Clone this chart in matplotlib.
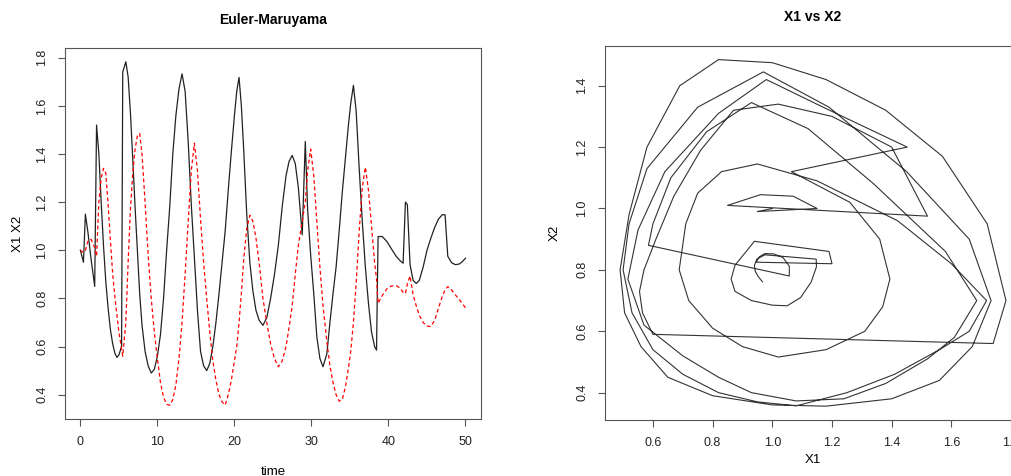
import matplotlib
matplotlib.use("Agg")
import matplotlib.pyplot as plt

plt.rcParams['font.family'] = ['Liberation Sans', 'DejaVu Sans']

# time points (extra points at the jumps)
time = [0, 0.4, 0.65, 1.0, 1.4, 1.86, 2.1, 2.4, 2.7, 3.0, 3.3, 3.6, 3.9, 4.2, 4.5, 4.75,
        5.0, 5.35, 5.5, 5.9, 6.2, 6.5, 6.8, 7.1, 7.4, 7.7, 8.0, 8.4, 8.8, 9.2, 9.6, 10.0,
        10.4, 10.8, 11.2, 11.6, 12.0, 12.4, 12.8, 13.2, 13.6, 14.0, 14.4, 14.8, 15.2, 15.6,
        16.0, 16.4, 16.8, 17.2, 17.6, 18.0, 18.4, 18.8, 19.2, 19.6, 20.0, 20.3, 20.6, 20.9,
        21.2, 21.6, 22.0, 22.4, 22.8, 23.2, 23.7, 24.2, 24.7, 25.2, 25.7, 26.2, 26.7, 27.1,
        27.5, 27.9, 28.3, 28.8, 29.2, 29.5, 29.9, 30.3, 30.7, 31.1, 31.5, 32.0, 32.4, 32.8,
        33.2, 33.6, 34.0, 34.4, 34.8, 35.1, 35.45, 35.8, 36.2, 36.6, 37.0, 37.4, 37.8, 38.2,
        38.45, 38.65, 39.2, 39.8, 40.4, 41.0, 41.5, 41.9, 42.2, 42.45, 42.8, 43.2, 43.6, 44.0,
        44.5, 45.0, 45.5, 46.0, 46.5, 47.0, 47.35, 47.7, 48.2, 48.7, 49.2, 49.6, 50.0]

x1 = [1.0, 0.95, 1.15, 1.07, 0.96, 0.85, 1.52, 1.40, 1.20, 1.02, 0.87, 0.76, 0.67, 0.61, 0.57, 0.555,
      0.565, 0.60, 1.74, 1.783, 1.72, 1.57, 1.38, 1.18, 1.0, 0.82, 0.69, 0.58, 0.52, 0.49, 0.505, 0.56,
      0.65, 0.80, 1.0, 1.18, 1.40, 1.56, 1.67, 1.733, 1.66, 1.45, 1.19, 0.97, 0.75, 0.58,
      0.52, 0.50, 0.53, 0.60, 0.70, 0.82, 0.95, 1.08, 1.25, 1.41, 1.56, 1.66, 1.718, 1.60,
      1.42, 1.15, 0.95, 0.83, 0.75, 0.71, 0.688, 0.72, 0.80, 0.90, 1.02, 1.18, 1.31, 1.37,
      1.394, 1.36, 1.26, 1.064, 1.452, 1.17, 0.98, 0.82, 0.64, 0.55, 0.516, 0.57, 0.70, 0.82,
      0.93, 1.08, 1.24, 1.38, 1.52, 1.61, 1.685, 1.58, 1.34, 1.12, 0.93, 0.78, 0.66, 0.60,
      0.585, 1.057, 1.057, 1.036, 1.005, 0.975, 0.957, 0.946, 1.20, 1.19, 0.94, 0.875, 0.862, 0.875,
      0.93, 1.0, 1.05, 1.095, 1.13, 1.148, 1.147, 0.975, 0.948, 0.94, 0.943, 0.953, 0.967]

x2 = [1.0, 0.99, 1.0, 1.04, 1.045, 1.01, 0.975, 1.2, 1.30, 1.34, 1.32, 1.19, 1.04, 0.90, 0.80, 0.73,
      0.66, 0.59, 0.56, 0.70, 0.95, 1.17, 1.32, 1.42, 1.475, 1.485, 1.40, 1.20, 0.98, 0.80, 0.66, 0.55,
      0.45, 0.39, 0.36, 0.356, 0.38, 0.44, 0.55, 0.70, 0.90, 1.12, 1.33, 1.445, 1.33, 1.13,
      0.95, 0.80, 0.66, 0.54, 0.46, 0.40, 0.37, 0.357, 0.40, 0.46, 0.54, 0.60, 0.70, 0.82,
      0.96, 1.09, 1.145, 1.12, 1.05, 0.95, 0.80, 0.70, 0.61, 0.55, 0.516, 0.54, 0.60, 0.68,
      0.77, 0.90, 1.02, 1.12, 1.20, 1.33, 1.42, 1.31, 1.12, 0.93, 0.77, 0.62, 0.52, 0.45,
      0.40, 0.373, 0.38, 0.43, 0.51, 0.58, 0.70, 0.86, 1.08, 1.26, 1.345, 1.25, 1.10, 0.95,
      0.88, 0.78, 0.812, 0.84, 0.852, 0.853, 0.843, 0.825, 0.82, 0.86, 0.893, 0.815, 0.77, 0.73,
      0.70, 0.685, 0.683, 0.71, 0.76, 0.81, 0.835, 0.849, 0.835, 0.814, 0.795, 0.778, 0.761]

left_xticks = [0, 10, 20, 30, 40, 50]
left_yticks = [0.4, 0.6, 0.8, 1.0, 1.2, 1.4, 1.6, 1.8]
right_xticks = [0.6, 0.8, 1.0, 1.2, 1.4, 1.6, 1.8]
right_yticks = [0.4, 0.6, 0.8, 1.0, 1.2, 1.4]


def rlim(*series):
    # R style axis range: data range plus 4% each side
    lo = min(min(s) for s in series)
    hi = max(max(s) for s in series)
    d = (hi - lo) * 0.04
    return lo - d, hi + d


def r_style(ax):
    for sp in ax.spines.values():
        sp.set_color('#555555')
        sp.set_linewidth(0.8)
    ax.tick_params(axis='both', direction='out', length=5, width=0.8, color='#555555',
                   labelsize=9, labelcolor='#222222', pad=7)
    for lab in ax.get_yticklabels():
        lab.set_rotation(90)
        lab.set_va('center')


fig = plt.figure(figsize=(10.12, 4.76), dpi=100)

ax1 = fig.add_axes([0.0642, 0.1197, 0.411, 0.7794])
ax1.plot(time, x1, color='#222222', linewidth=0.9)
ax1.plot(time, x2, color='red', linewidth=0.9, linestyle=(0, (3, 2.2)))
ax1.set_xlim(rlim(time))
ax1.set_ylim(rlim(x1, x2))
ax1.set_xticks(left_xticks)
ax1.set_yticks(left_yticks)
ax1.set_yticklabels(['%.1f' % v for v in left_yticks])
r_style(ax1)
ax1.set_title('Euler-Maruyama', fontsize=10, fontweight='bold', pad=17.5)
ax1.set_xlabel('time', fontsize=9.5, labelpad=13)
ax1.set_ylabel('X1 X2', fontsize=9.5, labelpad=9)

ax2 = fig.add_axes([0.5975, 0.1176, 0.4118, 0.7863])
ax2.plot(x1, x2, color='#333333', linewidth=0.8)
ax2.set_xlim(rlim(x1))
ax2.set_ylim(rlim(x2))
ax2.set_xticks(right_xticks)
ax2.set_yticks(right_yticks)
ax2.set_yticklabels(['%.1f' % v for v in right_yticks])
r_style(ax2)
ax2.set_title('X1 vs X2', fontsize=10, fontweight='bold', pad=17.5)
ax2.set_xlabel('X1', fontsize=9.5, labelpad=4)
ax2.set_ylabel('X2', fontsize=9.5, labelpad=11)

fig.savefig('out.png', dpi=100)
